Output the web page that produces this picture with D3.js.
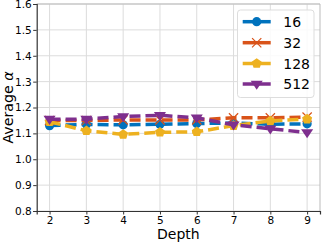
<!DOCTYPE html>
<html>
<head>
<meta charset="utf-8">
<script src="https://cdn.jsdelivr.net/npm/d3@7"></script>
<style>
  body { margin: 0; background: #fff; }
  text { font-family: "DejaVu Sans", sans-serif; fill: #000; }
</style>
</head>
<body>
<script>
// chart data
var depths = [2, 3, 4, 5, 6, 7, 8, 9];
var seriesNames = ["16", "32", "128", "512"];
var alpha16  = [1.13, 1.135, 1.133, 1.135, 1.138, 1.14, 1.135, 1.137];
var alpha32  = [1.15, 1.15, 1.152, 1.152, 1.152, 1.16, 1.16, 1.163];
var alpha128 = [1.145, 1.11, 1.096, 1.104, 1.106, 1.13, 1.148, 1.155];
var alpha512 = [1.155, 1.155, 1.165, 1.17, 1.16, 1.133, 1.118, 1.103];
var yTicks = [0.8, 0.9, 1.0, 1.1, 1.2, 1.3, 1.4, 1.5, 1.6];

var colors = ["#0072BD", "#D95319", "#EDB120", "#7E2F8E"];
var markers = ["circle", "x", "pentagon", "tridown"];
var allSeries = [alpha16, alpha32, alpha128, alpha512];

var width = 324, height = 242;
// note: "top" is reserved on window, so plot edges get their own names
var pLeft = 36.7, pRight = 320, pTop = 4, pBottom = 211;

var svg = d3.select("body").append("svg")
  .attr("width", width)
  .attr("height", height);

var x = d3.scaleLinear().domain([1.65, 9.35]).range([pLeft, pRight]);
var y = d3.scaleLinear().domain([0.8, 1.6]).range([pBottom, pTop]);

// grid
var grid = svg.append("g").attr("class", "grid");
grid.selectAll("line.vx").data(depths).enter().append("line")
  .attr("x1", function(d) { return x(d); }).attr("x2", function(d) { return x(d); })
  .attr("y1", pTop).attr("y2", pBottom)
  .attr("stroke", "#dcdcdc").attr("stroke-width", 1);
grid.selectAll("line.hy").data(yTicks).enter().append("line")
  .attr("y1", function(d) { return y(d); }).attr("y2", function(d) { return y(d); })
  .attr("x1", pLeft).attr("x2", pRight)
  .attr("stroke", "#dcdcdc").attr("stroke-width", 1);

// frame (top/right lighter)
svg.append("line").attr("x1", pLeft).attr("x2", pRight).attr("y1", pTop).attr("y2", pTop)
  .attr("stroke", "#bbb").attr("stroke-width", 1);
svg.append("line").attr("x1", pRight).attr("x2", pRight).attr("y1", pTop).attr("y2", pBottom)
  .attr("stroke", "#bbb").attr("stroke-width", 1);

// axes
var xAxis = svg.append("g")
  .attr("transform", "translate(0," + pBottom + ")")
  .call(d3.axisBottom(x).tickValues(depths).tickSize(3.5).tickPadding(2.2));
var yAxis = svg.append("g")
  .attr("transform", "translate(" + pLeft + ",0)")
  .call(d3.axisLeft(y).tickValues(yTicks).tickFormat(d3.format(".1f")).tickSize(3.5).tickPadding(1.5));

[xAxis, yAxis].forEach(function(a) {
  a.select(".domain").attr("stroke", "#333").attr("stroke-width", 1.2);
  a.selectAll(".tick line").attr("stroke", "#333");
  a.selectAll(".tick text").style("font-size", "10.5px").style("font-family", "DejaVu Sans").attr("fill", "#222");
});

// axis labels
svg.append("text")
  .attr("x", (pLeft + pRight) / 2).attr("y", 239)
  .attr("text-anchor", "middle")
  .style("font-size", "14px")
  .text("Depth");
svg.append("text")
  .attr("transform", "translate(12.5," + ((pTop + pBottom) / 2) + ") rotate(-90)")
  .attr("text-anchor", "middle")
  .style("font-size", "14.2px")
  .html("Average <tspan font-style='italic'>α</tspan>");

function drawMarker(g, kind, color, s) {
  if (kind === "circle") {
    g.append("circle").attr("r", s * 0.42).attr("fill", color);
  } else if (kind === "x") {
    var h = s * 0.42;
    g.append("path").attr("d", "M" + (-h) + "," + (-h) + "L" + h + "," + h + "M" + (-h) + "," + h + "L" + h + "," + (-h))
      .attr("stroke", color).attr("stroke-width", 1.2).attr("fill", "none");
  } else if (kind === "pentagon") {
    var r = s * 0.48;
    var pts = d3.range(5).map(function(i) {
      var a = -Math.PI / 2 + i * 2 * Math.PI / 5;
      return [r * Math.cos(a), r * Math.sin(a)];
    });
    g.append("path").attr("d", d3.line()(pts) + "Z").attr("fill", color);
  } else {
    var t = s * 0.55;
    g.append("path").attr("d", "M" + (-t) + "," + (-t * 0.55) + "L" + t + "," + (-t * 0.55) + "L0," + (t * 0.95) + "Z")
      .attr("fill", color);
  }
}

var line = d3.line()
  .x(function(d) { return x(d[0]); })
  .y(function(d) { return y(d[1]); });

var plot = svg.append("g");
allSeries.forEach(function(vals, i) {
  var pts = depths.map(function(d, j) { return [d, vals[j]]; });
  plot.append("path")
    .attr("d", line(pts))
    .attr("fill", "none")
    .attr("stroke", colors[i])
    .attr("stroke-width", 3.5)
    .attr("stroke-dasharray", "11,5");
  pts.forEach(function(p) {
    var g = plot.append("g").attr("transform", "translate(" + x(p[0]) + "," + y(p[1]) + ")");
    drawMarker(g, markers[i], colors[i], 11);
  });
});

// legend
var legend = svg.append("g");
legend.append("rect")
  .attr("x", 237.5).attr("y", 10).attr("width", 76.5).attr("height", 87.5)
  .attr("rx", 3).attr("fill", "#fff").attr("fill-opacity", 0.85)
  .attr("stroke", "#dddddd").attr("stroke-width", 1);
var legendY = [21.7, 42.7, 63.5, 84];
seriesNames.forEach(function(name, i) {
  var gy = legendY[i];
  legend.append("line")
    .attr("x1", 242.7).attr("x2", 270.7).attr("y1", gy).attr("y2", gy)
    .attr("stroke", colors[i]).attr("stroke-width", 3.5);
  var g = legend.append("g").attr("transform", "translate(256.7," + gy + ")");
  drawMarker(g, markers[i], colors[i], 11);
  legend.append("text")
    .attr("x", 283.3).attr("y", gy + 5)
    .style("font-size", "14px")
    .text(name);
});
</script>
</body>
</html>
